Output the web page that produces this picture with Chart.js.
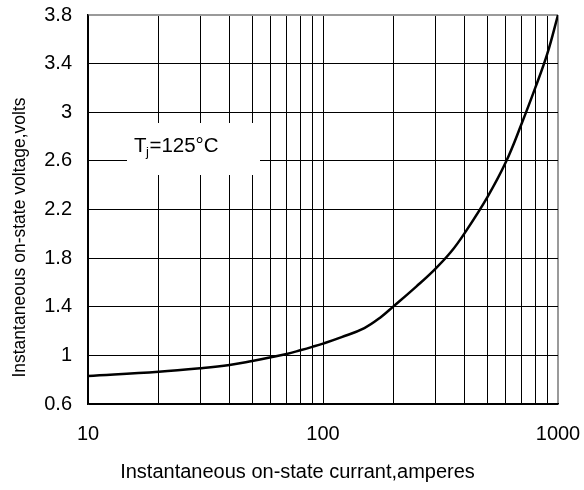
<!DOCTYPE html>
<html><head><meta charset="utf-8">
<script src="https://cdn.jsdelivr.net/npm/chart.js@4"></script>
<style>html,body{margin:0;padding:0;background:#fff;}#wrap{width:584px;height:490px;}</style>
</head><body><div id="wrap"><canvas id="c" width="584" height="490"></canvas></div>
<script>
const currentA = [10,20,30,40,50,60,70,80,90,100,120,150,175,200,250,300,350,400,500,600,700,800,900,1000];
const voltageV = [0.83,0.865,0.894,0.921,0.954,0.984,1.012,1.042,1.07,1.097,1.15,1.225,1.31,1.405,1.568,1.71,1.85,2.004,2.30,2.59,2.905,3.20,3.48,3.80];
const xGridValues = [10,20,30,40,50,60,70,80,90,100,200,300,400,500,600,700,800,900,1000];
const xTickLabels = [10,100,1000];
const yTickValues = [0.6,1,1.4,1.8,2.2,2.6,3,3.4,3.8];
const xTitle = 'Instantaneous on-state currant,amperes';
const yTitle = 'Instantaneous on-state voltage,volts';
const noteMain = 'T', noteSub = 'j', noteRest = '=125°C';

const FONT = "'Liberation Sans', Arial, sans-serif";
Chart.defaults.font.family = FONT;
Chart.defaults.color = '#000';

const notePlugin = {
  id: 'note',
  beforeDatasetsDraw(chart) {
    const ctx = chart.ctx, a = chart.chartArea;
    const bx = a.left + 39, by = a.top + 108;
    ctx.save();
    ctx.fillStyle = '#fff';
    ctx.fillRect(bx, by, 133, 52);
    ctx.fillStyle = '#000';
    ctx.textBaseline = 'alphabetic';
    ctx.textAlign = 'left';
    let x = bx + 7, y = by + 28.5;
    ctx.font = '20.5px ' + FONT;
    ctx.fillText(noteMain, x, y);
    x += ctx.measureText(noteMain).width - 0.5;
    ctx.font = '13px ' + FONT;
    ctx.fillText(noteSub, x, y + 4.5);
    x += ctx.measureText(noteSub).width + 0.5;
    ctx.font = '20.5px ' + FONT;
    ctx.fillText(noteRest, x, y);
    ctx.restore();
  },
  afterDraw(chart) {
    const ctx = chart.ctx;
    ctx.save();
    ctx.fillStyle = '#000';
    ctx.textBaseline = 'alphabetic';
    ctx.textAlign = 'center';
    ctx.font = '20px ' + FONT;
    ctx.fillText(xTitle, 297.5, 478);
    ctx.translate(24.5, 237.5);
    ctx.rotate(-Math.PI / 2);
    ctx.font = '17.5px ' + FONT;
    ctx.fillText(yTitle, 0, 0);
    ctx.restore();
  }
};

new Chart(document.getElementById('c'), {
  type: 'line',
  data: {
    datasets: [{
      data: currentA.map((x, i) => ({x: x, y: voltageV[i]})),
      borderColor: '#000',
      borderWidth: 2.5,
      pointRadius: 0,
      fill: false,
      tension: 0.4
    }]
  },
  options: {
    responsive: false,
    animation: false,
    layout: {padding: {top: 15, right: 26, left: 28, bottom: 30}},
    plugins: {
      legend: {display: false},
      tooltip: {enabled: false},
      title: {display: false},
      subtitle: {display: false}
    },
    scales: {
      x: {
        type: 'logarithmic', min: 10, max: 1000,
        afterBuildTicks: s => { s.ticks = xGridValues.map(v => ({value: v})); },
        afterFit: s => { s.height = 56; s.paddingLeft = 0; s.paddingRight = 0; },
        ticks: {autoSkip: false, maxRotation: 0, minRotation: 0, padding: 18, color: '#000',
          font: {size: 20},
          callback: v => xTickLabels.includes(v) ? String(v) : ''},
        grid: {drawTicks: false,
          color: c => (c.tick && c.tick.value === 1000) ? '#9a9a9a' : '#000',
          lineWidth: c => (c.tick && c.tick.value === 1000) ? 2 : 1},
        border: {color: '#000', width: 1.5}
      },
      y: {
        type: 'linear', min: 0.6, max: 3.8,
        afterBuildTicks: s => { s.ticks = yTickValues.map(v => ({value: v})); },
        afterFit: s => { s.width = 60; s.paddingTop = 0; s.paddingBottom = 0; },
        ticks: {padding: 16, color: '#000', font: {size: 20},
          callback: v => String(v)},
        grid: {drawTicks: false,
          color: c => (c.tick && c.tick.value === 3.8) ? '#9a9a9a' : '#000',
          lineWidth: c => (c.tick && c.tick.value === 3.8) ? 2 : 1},
        border: {color: '#000', width: 1.5}
      }
    }
  },
  plugins: [notePlugin]
});
</script>
</body></html>
